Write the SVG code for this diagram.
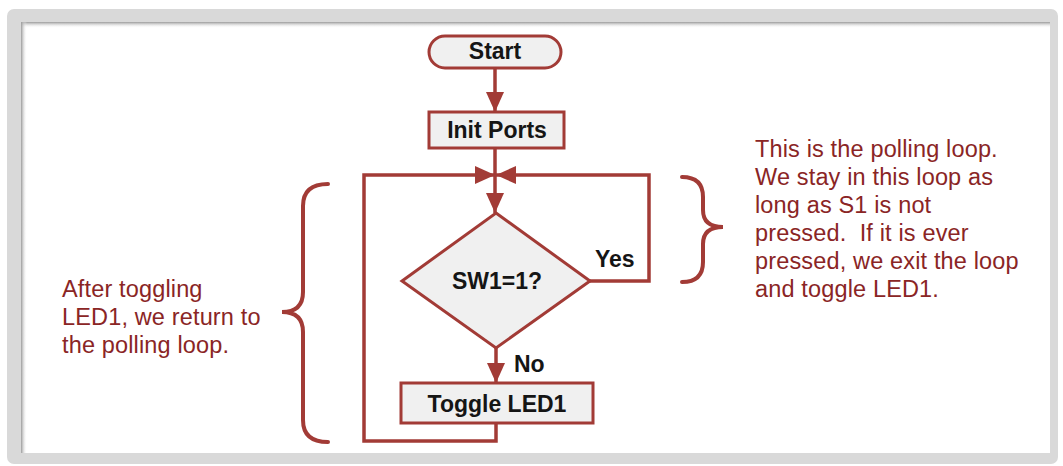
<svg xmlns="http://www.w3.org/2000/svg" width="1063" height="466" viewBox="0 0 1063 466">
<defs>
<style>
.node{fill:#f0f0f0;stroke:#a23b36;stroke-width:3}
.lbl{font-family:"Liberation Sans",Arial,sans-serif;font-weight:bold;font-size:23px;fill:#151515}
.note{font-family:"Liberation Sans",Arial,sans-serif;font-size:23.5px;letter-spacing:0.15px;fill:#8a2525;white-space:pre}
.conn{fill:none;stroke:#a23b36;stroke-width:3.5}
.brace{fill:none;stroke:#a23b36;stroke-width:4;stroke-linecap:round}
</style>
<marker id="ah" markerUnits="userSpaceOnUse" markerWidth="20" markerHeight="18" refX="20" refY="9" orient="auto">
<path d="M0,0 L20,9 L0,18 z" fill="#a23b36"/>
</marker>
<linearGradient id="shT" x1="0" y1="0" x2="0" y2="1">
<stop offset="0" stop-color="#9a9a9a"/>
<stop offset="1" stop-color="#ffffff" stop-opacity="0"/>
</linearGradient>
<linearGradient id="shL" x1="0" y1="0" x2="1" y2="0">
<stop offset="0" stop-color="#9a9a9a"/>
<stop offset="1" stop-color="#ffffff" stop-opacity="0"/>
</linearGradient>
</defs>
<rect width="1063" height="466" fill="#ffffff"/>
<g id="frame">
<rect x="7" y="9" width="1051" height="455" rx="7" fill="#d9d9d9"/>
<rect x="21" y="22" width="1029" height="431" fill="#ffffff"/>
<rect x="21" y="22" width="1029" height="6" fill="url(#shT)"/>
<rect x="21" y="22" width="6" height="431" fill="url(#shL)"/>
</g>
<g id="connectors">
<path class="conn" d="M495,68 V112" marker-end="url(#ah)"/>
<path class="conn" d="M495,148 V213" marker-end="url(#ah)"/>
<path class="conn" d="M590,281 H649 V175 H496" marker-end="url(#ah)"/>
<path class="conn" d="M496,423 V441 H364 V175 H495" marker-end="url(#ah)"/>
<path class="conn" d="M496,348 V383" marker-end="url(#ah)"/>
<text class="lbl" x="595" y="267">Yes</text>
<text class="lbl" x="514" y="372">No</text>
</g>
<g id="start">
<rect class="node" x="429" y="36" width="132" height="32" rx="16"/>
<text class="lbl" x="495" y="59" text-anchor="middle">Start</text>
</g>
<g id="init">
<rect class="node" x="429" y="112" width="135" height="36"/>
<text class="lbl" x="497" y="138" text-anchor="middle">Init Ports</text>
</g>
<g id="decision">
<polygon class="node" points="496,213 590,281 496,348 402,281"/>
<text class="lbl" x="497" y="289" text-anchor="middle">SW1=1?</text>
</g>
<g id="toggle">
<rect class="node" x="401" y="383" width="192" height="40"/>
<text class="lbl" x="497" y="412" text-anchor="middle">Toggle LED1</text>
</g>
<g id="note-left">
<path class="brace" d="M328,184 Q303,184 303,206 V292 Q303,312 282,312 Q303,312 303,332 V420 Q303,442 328,442"/>
<text class="note"><tspan x="62" y="297">After toggling</tspan><tspan x="62" y="325">LED1, we return to</tspan><tspan x="62" y="353">the polling loop.</tspan></text>
</g>
<g id="note-right">
<path class="brace" d="M682,177 Q703,177 703,197 V210 Q703,227 723,227 Q703,227 703,244 V262 Q703,282 682,282"/>
<text class="note"><tspan x="755" y="157">This is the polling loop.</tspan><tspan x="755" y="185">We stay in this loop as</tspan><tspan x="755" y="213">long as S1 is not</tspan><tspan x="755" y="241">pressed.  If it is ever</tspan><tspan x="755" y="269">pressed, we exit the loop</tspan><tspan x="755" y="297">and toggle LED1.</tspan></text>
</g>
</svg>
